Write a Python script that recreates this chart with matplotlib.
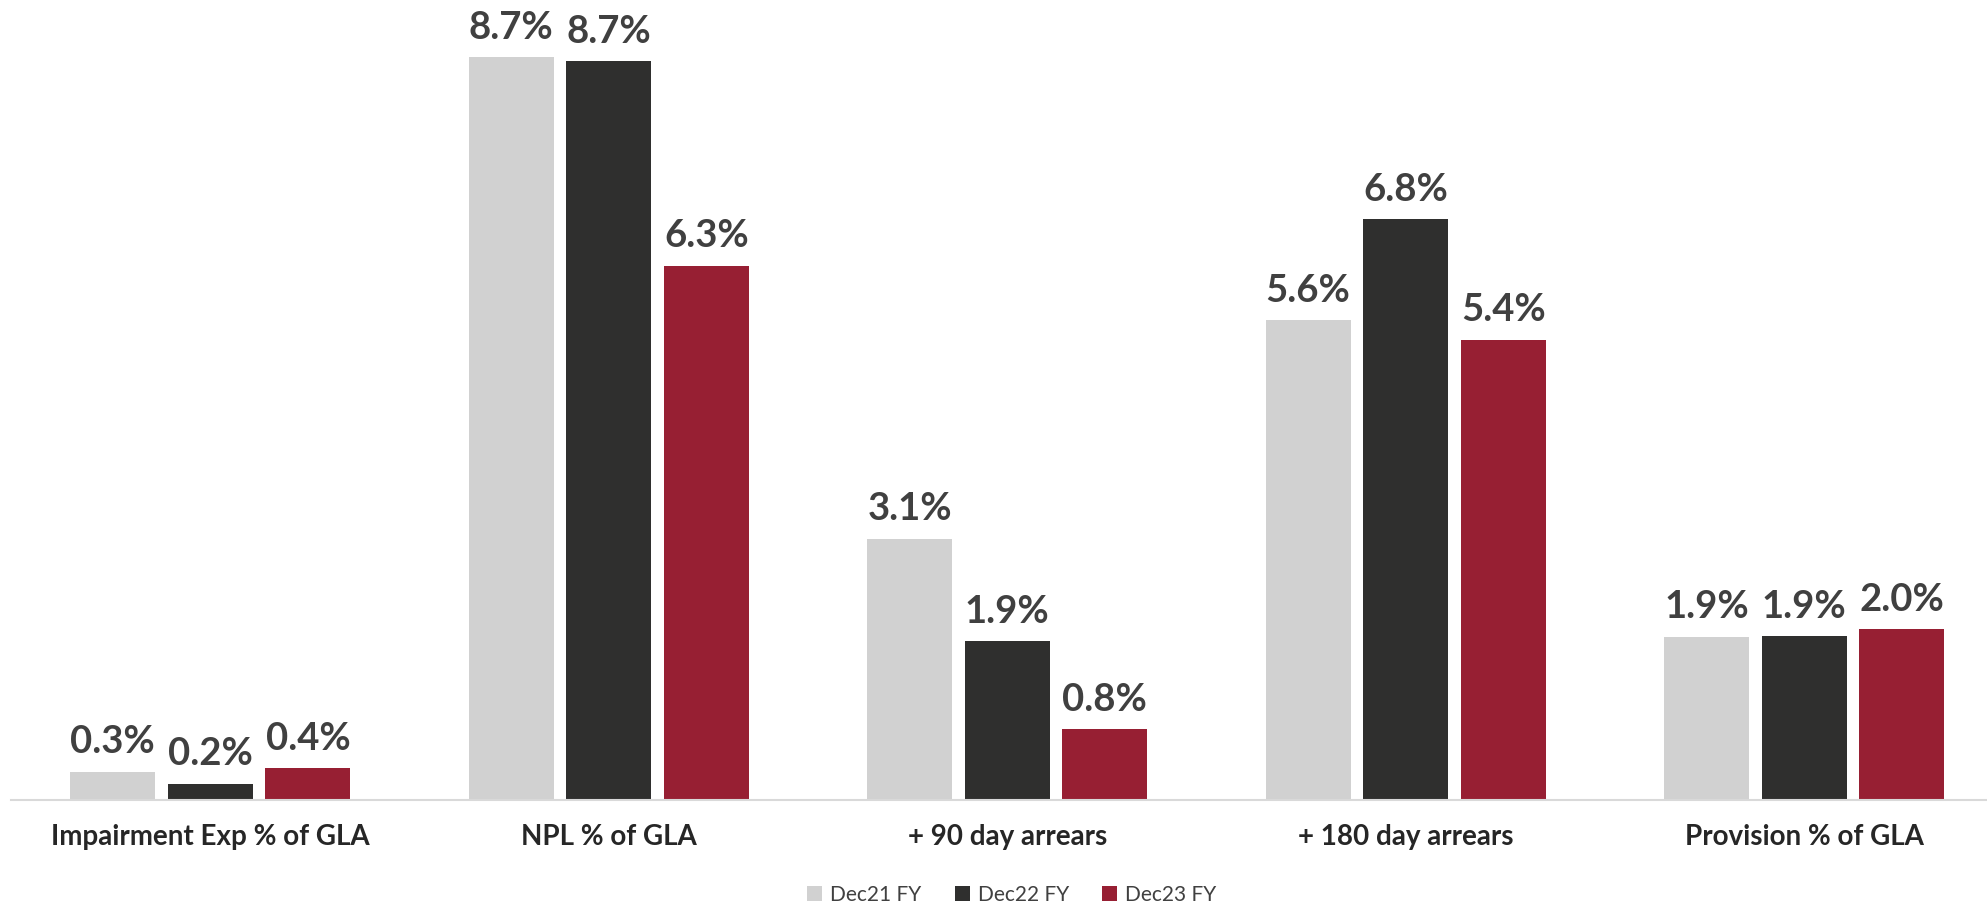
import numpy as np
import matplotlib.pyplot as plt

categories = ['Impairment Exp % of GLA', 'NPL % of GLA', '+ 90 day arrears',
              '+ 180 day arrears', 'Provision % of GLA']
series = ['Dec21 FY', 'Dec22 FY', 'Dec23 FY']
dec21 = [0.33, 8.70, 3.06, 5.62, 1.91]
dec22 = [0.19, 8.65, 1.86, 6.80, 1.92]
dec23 = [0.37, 6.26, 0.83, 5.39, 2.00]
colors = ['#D1D1D1', '#2F2F2E', '#971F33']

plt.rcParams['font.family'] = ['Lato', 'DejaVu Sans']

fig = plt.figure(figsize=(19.87, 9.06), dpi=100)
ax = fig.add_axes([11 / 1987, 0.117, 1992.5 / 1987, 0.883])

x = np.arange(len(categories))
w = 0.213
step = 0.245
for i, (vals, c, name) in enumerate(zip([dec21, dec22, dec23], colors, series)):
    bars = ax.bar(x + (i - 1) * step, vals, w, color=c, label=name)
    for b, v in zip(bars, vals):
        ax.annotate(f'{v:.1f}%', (b.get_x() + b.get_width() / 2, v),
                    xytext=(0, 9), textcoords='offset points',
                    ha='center', va='bottom', fontsize=27.5,
                    fontweight='bold', color='#404040')

ax.set_xlim(-0.5, 4.5)
ax.set_ylim(0, 9.37)
ax.set_xticks(x)
ax.set_xticklabels(categories, fontsize=20, fontweight='bold', color='#262626')
ax.tick_params(axis='x', length=0, pad=17)
ax.set_yticks([])
for s in ['top', 'right', 'left']:
    ax.spines[s].set_visible(False)
ax.spines['bottom'].set_color('#D9D9D9')
ax.spines['bottom'].set_linewidth(1.5)

fig.legend(loc='center', bbox_to_anchor=(1012 / 1987, 1 - 895 / 906), ncol=3,
           frameon=False, fontsize=15, handlelength=0.7, handleheight=0.7,
           handletextpad=0.4, columnspacing=1.6, labelcolor='#404040')

fig.savefig('out.png', dpi=100)
